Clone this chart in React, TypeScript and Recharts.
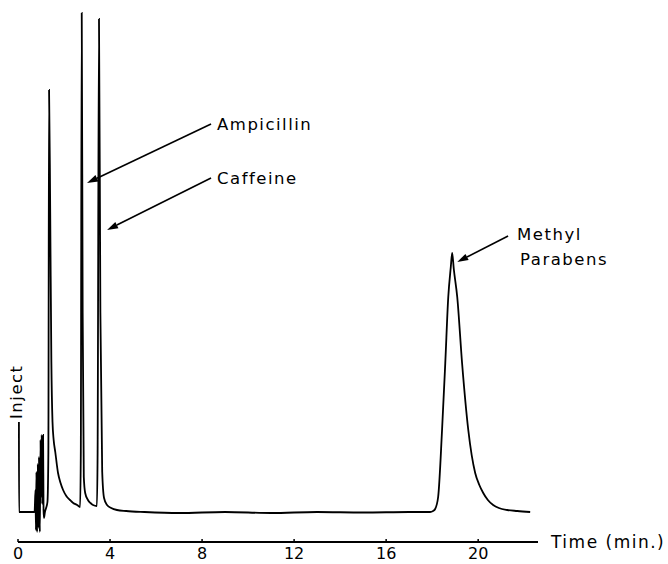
import React from "react";
import {
  LineChart,
  Line,
  XAxis,
  YAxis,
  ReferenceLine,
  ReferenceDot,
} from "recharts";

// detector trace (time in min, response in arbitrary units)
const times = [
  0.04, 0.045, 0.72, 0.76, 0.78, 0.8, 0.83, 0.86, 0.89, 0.91, 0.95, 0.98, 1.0,
  1.03, 1.05, 1.09, 1.11, 1.13, 1.17, 1.22, 1.28, 1.32, 1.35, 1.4, 1.45, 1.5,
  1.55, 1.62, 1.74, 1.85, 1.96, 2.1, 2.26, 2.4, 2.57, 2.7, 2.73, 2.77, 2.81,
  2.86, 2.92, 3.04, 3.15, 3.26, 3.43, 3.46, 3.52, 3.58, 3.66, 3.74, 3.87, 4.05,
  4.3, 4.7, 5.5, 7.0, 9.0, 11.0, 13.0, 15.0, 17.0, 17.91, 18.04, 18.13, 18.26,
  18.43, 18.57, 18.7, 18.81, 18.87, 18.94, 19.09, 19.3, 19.57, 19.87, 20.05,
  20.22, 20.42, 20.65, 20.9, 21.26, 21.7, 22.26,
];
const response = [
  90, 0, 0, 22, -18, 40, -20, 48, -16, 55, -20, 72, 15, 77, 8, 77, 2, -6, 0, 4,
  10, 60, 422, 300, 150, 90, 72, 60, 39, 29, 22, 16, 12, 9, 7, 5, 60, 499, 200,
  35, 19, 12, 9, 7, 6, 60, 493, 200, 40, 14, 7, 4, 2, 1, 0, -1, 0, -1, 0, -0.5,
  0, 0, 1, 3, 15, 82, 149, 215, 245, 259, 243, 215, 149, 82, 39, 27, 19, 12, 7,
  4, 2, 1, 0,
];

const timeTicks = [0, 4, 8, 12, 16, 20];

const trace = times.map((t, i) => ({ t, v: response[i] }));

const FONT = "'DejaVu Sans', sans-serif";

function TimeTick({ x, y, payload }: any) {
  return (
    <g>
      <line x1={x} x2={x} y1={y - 3} y2={y} stroke="#000" strokeWidth={1.5} />
      <text
        x={x}
        y={y + 17}
        textAnchor="middle"
        fontFamily={FONT}
        fontSize={16}
        fill="#000"
      >
        {payload.value}
      </text>
    </g>
  );
}

function arrowWithText(lines: string[], dx: number, dy: number, lineGap = 25) {
  return (props: any) => {
    const { x1, y1, x2, y2 } = props;
    const len = Math.hypot(x1 - x2, y1 - y2) || 1;
    const ux = (x1 - x2) / len;
    const uy = (y1 - y2) / len;
    const bx = x1 - ux * 11;
    const by = y1 - uy * 11;
    const nx = -uy * 3.5;
    const ny = ux * 3.5;
    return (
      <g>
        <line x1={bx} y1={by} x2={x2} y2={y2} stroke="#000" strokeWidth={1.6} />
        <polygon
          points={`${x1},${y1} ${bx + nx},${by + ny} ${bx - nx},${by - ny}`}
          fill="#000"
        />
        {lines.map((s, i) => (
          <text
            key={s}
            x={x2 + dx + (i > 0 ? 3 : 0)}
            y={y2 + dy + i * lineGap}
            fontFamily={FONT}
            fontSize={16.5}
            letterSpacing={1.5}
            fill="#000"
          >
            {s}
          </text>
        ))}
      </g>
    );
  };
}

export default function App() {
  return (
    <div style={{ position: "absolute", left: 0, top: 0, background: "#fff" }}>
      <LineChart
        width={668}
        height={564}
        data={trace}
        margin={{ top: 0, right: 130, bottom: 0, left: 18 }}
      >
        <XAxis
          dataKey="t"
          type="number"
          domain={[0, 22.6]}
          ticks={timeTicks}
          height={22}
          tickSize={0}
          tickMargin={0}
          tickLine={false}
          axisLine={{ stroke: "#000", strokeWidth: 2 }}
          tick={<TimeTick />}
          interval={0}
        />
        <YAxis hide type="number" domain={[-30, 512]} />
        <Line
          type="monotone"
          dataKey="v"
          stroke="#000"
          strokeWidth={1.8}
          dot={false}
          isAnimationActive={false}
        />
        <ReferenceLine
          segment={[
            { x: 3.0, y: 329 },
            { x: 8.39, y: 388 },
          ]}
          shape={arrowWithText(["Ampicillin"], 6, 6)}
        />
        <ReferenceLine
          segment={[
            { x: 3.87, y: 282 },
            { x: 8.39, y: 334 },
          ]}
          shape={arrowWithText(["Caffeine"], 6, 6)}
        />
        <ReferenceLine
          segment={[
            { x: 19.09, y: 250 },
            { x: 21.3, y: 276 },
          ]}
          shape={arrowWithText(["Methyl", "Parabens"], 9, 4)}
        />
        <ReferenceDot
          x={0.04}
          y={90}
          r={0}
          ifOverflow="visible"
          shape={(p: any) => (
            <text
              x={p.cx + 3}
              y={p.cy - 3}
              transform={`rotate(-90, ${p.cx + 3}, ${p.cy - 3})`}
              fontFamily={FONT}
              fontSize={16.5}
              letterSpacing={1.5}
              fill="#000"
            >
              Inject
            </text>
          )}
        />
        <ReferenceDot
          x={22.6}
          y={-30}
          r={0}
          ifOverflow="visible"
          shape={(p: any) => (
            <text
              x={p.cx + 13}
              y={p.cy + 6}
              fontFamily={FONT}
              fontSize={17}
              letterSpacing={1.5}
              fill="#000"
            >
              Time (min.)
            </text>
          )}
        />
      </LineChart>
    </div>
  );
}
